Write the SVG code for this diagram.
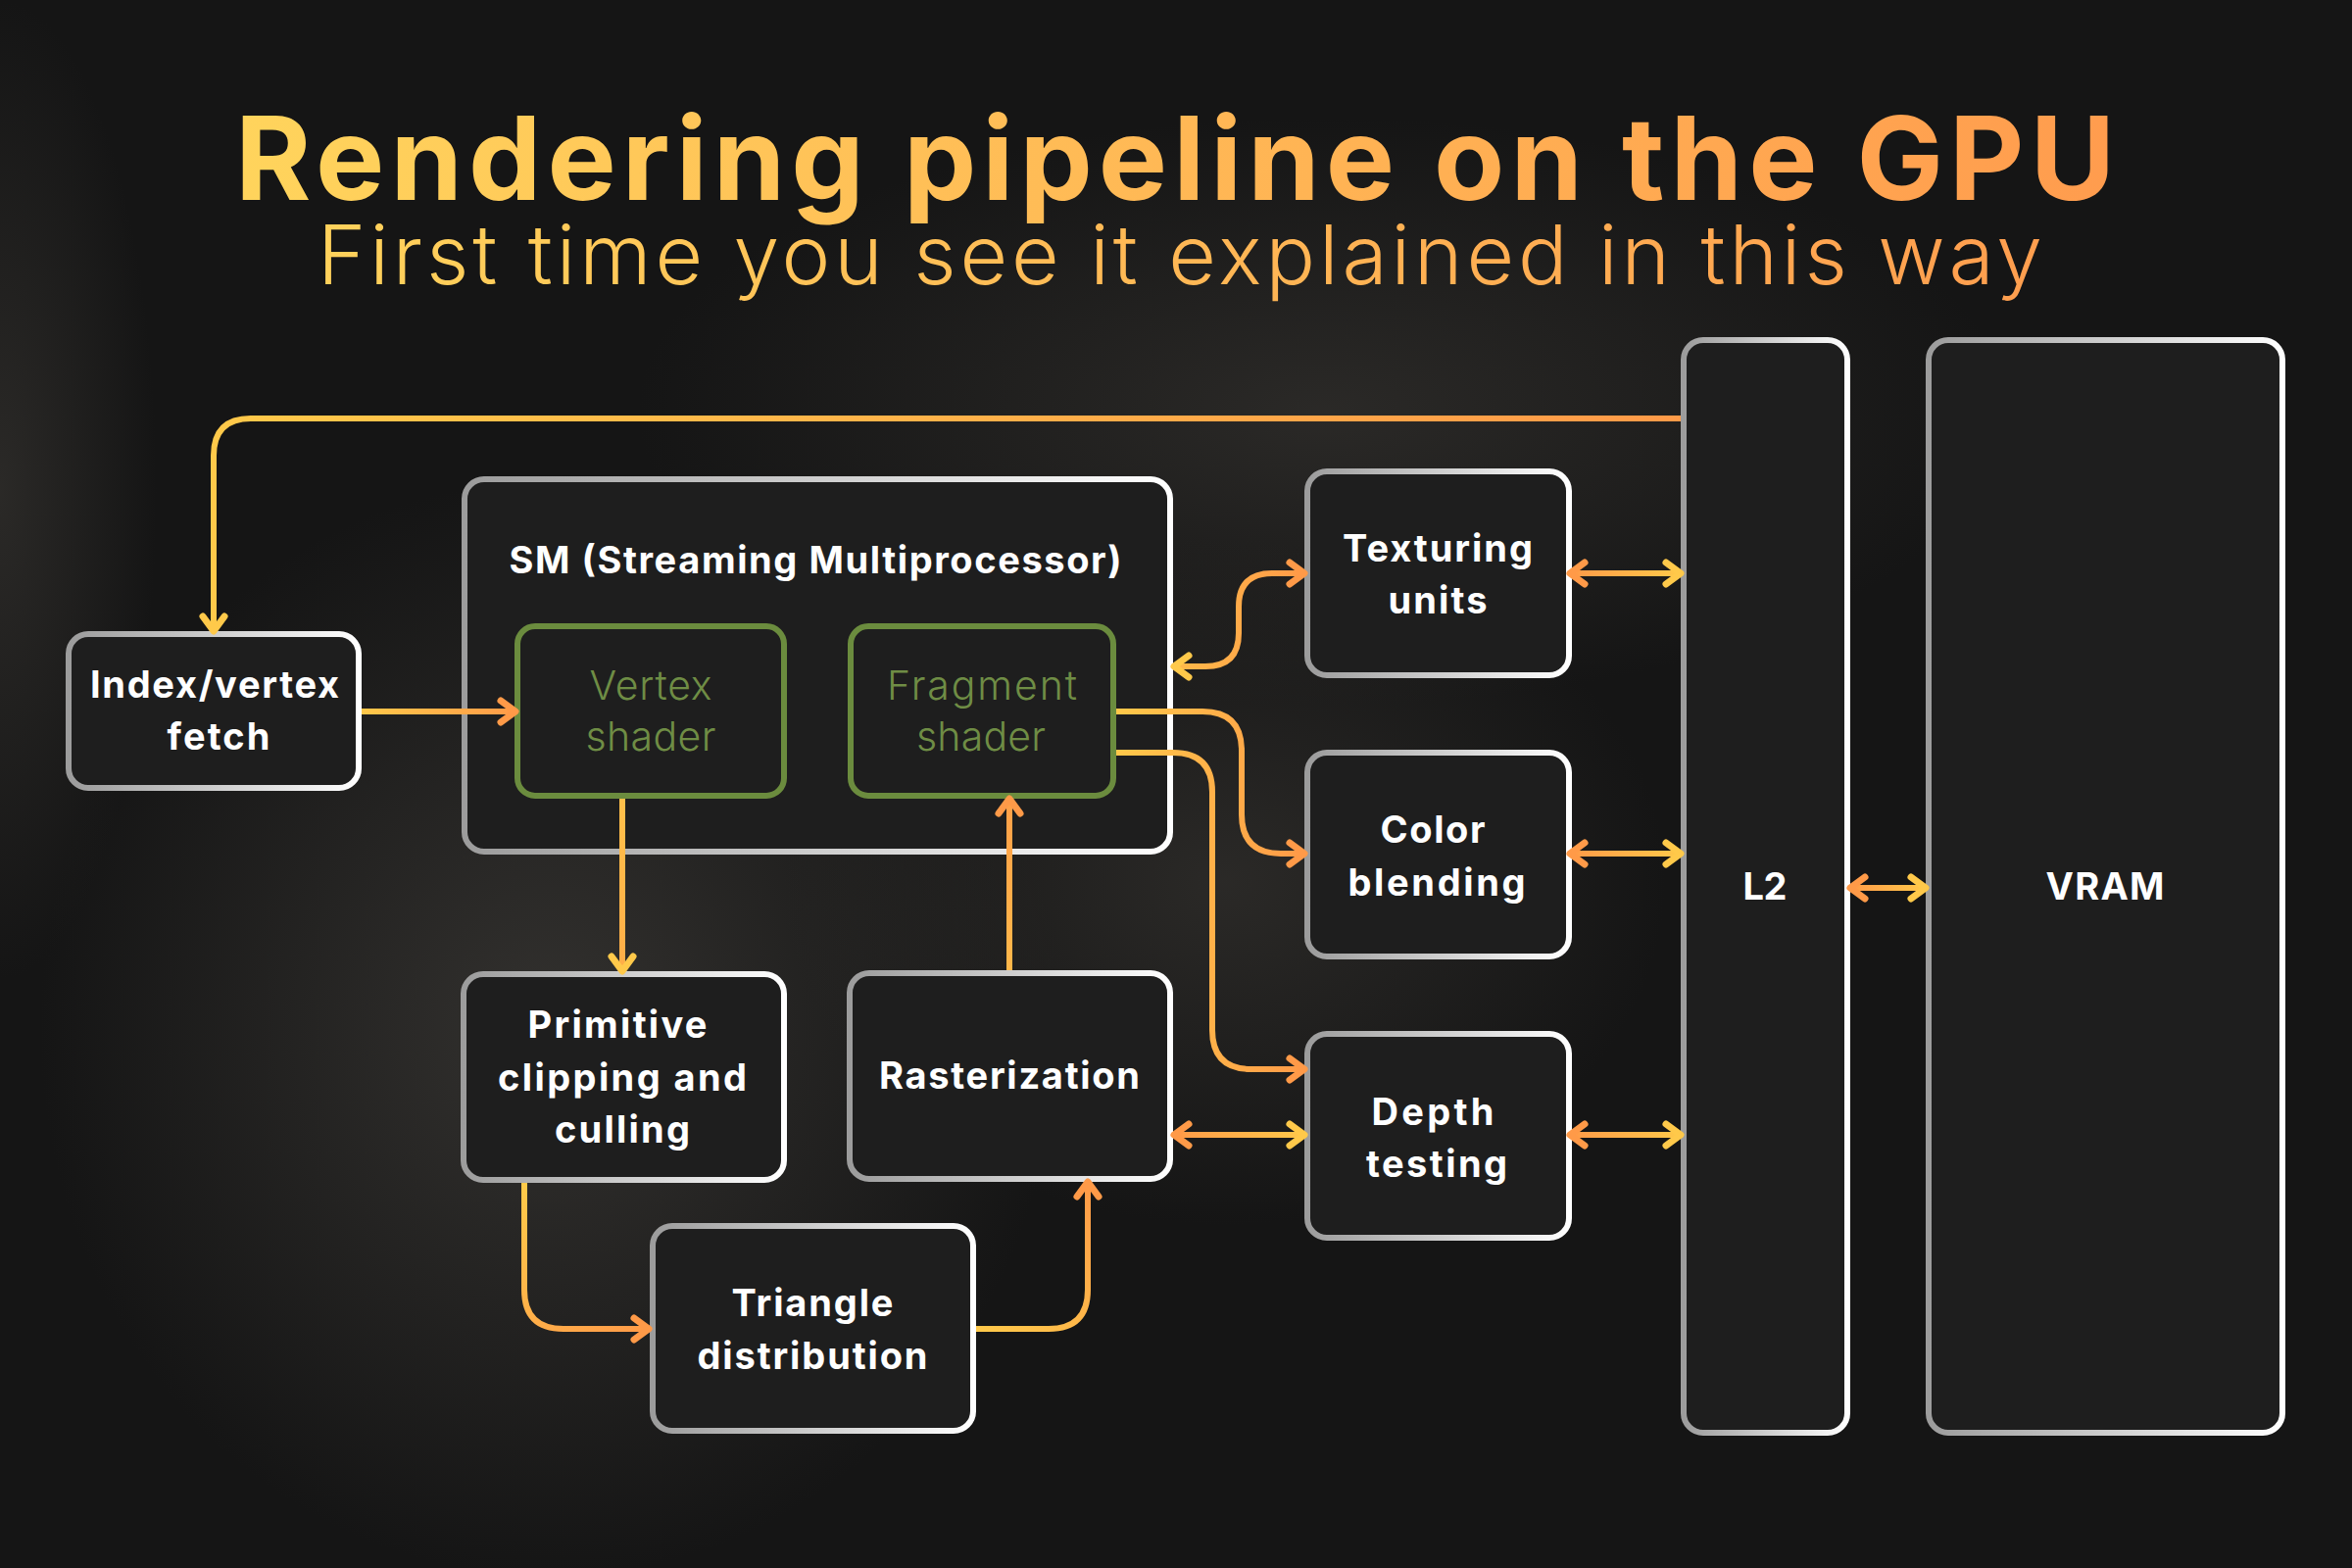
<svg xmlns="http://www.w3.org/2000/svg" width="2400" height="1600" viewBox="0 0 2400 1600">
  <defs>
    <style>
      .box { fill: #1e1e1e; stroke: url(#silver); stroke-width: 6; }
      .shader { fill: #1e1e1e; stroke: #6b8c3e; stroke-width: 6; }
      .lbl { font-family: Inter, "Liberation Sans", sans-serif; font-weight: 700; font-size: 38px; fill: #ffffff; text-anchor: middle; }
      .glbl { font-family: Inter, "Liberation Sans", sans-serif; font-weight: 300; font-size: 41px; fill: #6f8d45; text-anchor: middle; }
      .con { fill: none; stroke-width: 6; stroke-linejoin: round; }
      .title { font-family: Inter, "Liberation Sans", sans-serif; font-weight: 700; font-size: 118px; fill: url(#titleGrad); text-anchor: middle; }
      .sub { font-family: Inter, "Liberation Sans", sans-serif; font-weight: 300; font-size: 84px; fill: url(#titleGrad); text-anchor: middle; }
    </style>
    <linearGradient id="silver" x1="0" y1="0" x2="1" y2="0">
      <stop offset="0" stop-color="#9c9c9c"/>
      <stop offset="1" stop-color="#ffffff"/>
    </linearGradient>
    <linearGradient id="titleGrad" gradientUnits="userSpaceOnUse" x1="240" y1="0" x2="2160" y2="0">
      <stop offset="0" stop-color="#ffd45c"/>
      <stop offset="1" stop-color="#ff9c4e"/>
    </linearGradient>
    <radialGradient id="glow1" cx="0.5" cy="0.5" r="0.5">
      <stop offset="0" stop-color="#3a3835" stop-opacity="0.8"/>
      <stop offset="1" stop-color="#3a3835" stop-opacity="0"/>
    </radialGradient>
    <radialGradient id="glow2" cx="0.5" cy="0.5" r="0.5">
      <stop offset="0" stop-color="#34322f" stop-opacity="0.7"/>
      <stop offset="1" stop-color="#34322f" stop-opacity="0"/>
    </radialGradient>
    <linearGradient id="gTop" gradientUnits="userSpaceOnUse" x1="218" y1="0" x2="1716" y2="0">
      <stop offset="0" stop-color="#ffc94a"/><stop offset="1" stop-color="#ff9a48"/>
    </linearGradient>
    <linearGradient id="gIdx" gradientUnits="userSpaceOnUse" x1="366" y1="0" x2="528" y2="0">
      <stop offset="0" stop-color="#ffc94a"/><stop offset="1" stop-color="#ff9a48"/>
    </linearGradient>
    <linearGradient id="gVP" gradientUnits="userSpaceOnUse" x1="0" y1="813" x2="0" y2="993">
      <stop offset="0" stop-color="#ffc04a"/><stop offset="1" stop-color="#ffad48"/>
    </linearGradient>
    <linearGradient id="gRF" gradientUnits="userSpaceOnUse" x1="0" y1="992" x2="0" y2="813">
      <stop offset="0" stop-color="#ffb84a"/><stop offset="1" stop-color="#ff9f48"/>
    </linearGradient>
    <linearGradient id="gPT" gradientUnits="userSpaceOnUse" x1="535" y1="1205" x2="664" y2="1356">
      <stop offset="0" stop-color="#ffcb4a"/><stop offset="1" stop-color="#ff9a48"/>
    </linearGradient>
    <linearGradient id="gTR" gradientUnits="userSpaceOnUse" x1="995" y1="1356" x2="1110" y2="1203">
      <stop offset="0" stop-color="#ffc94a"/><stop offset="1" stop-color="#ff9a48"/>
    </linearGradient>
    <linearGradient id="gLR" gradientUnits="userSpaceOnUse" x1="1136" y1="0" x2="1332" y2="0">
      <stop offset="0" stop-color="#ffc94a"/><stop offset="1" stop-color="#ff9a48"/>
    </linearGradient>
    <linearGradient id="gOY1" gradientUnits="userSpaceOnUse" x1="1197" y1="0" x2="1332" y2="0">
      <stop offset="0" stop-color="#ff9a48"/><stop offset="1" stop-color="#ffc94a"/>
    </linearGradient>
    <linearGradient id="gOY2" gradientUnits="userSpaceOnUse" x1="1601" y1="0" x2="1716" y2="0">
      <stop offset="0" stop-color="#ff9a48"/><stop offset="1" stop-color="#ffc94a"/>
    </linearGradient>
    <linearGradient id="gOY3" gradientUnits="userSpaceOnUse" x1="1886" y1="0" x2="1967" y2="0">
      <stop offset="0" stop-color="#ff9a48"/><stop offset="1" stop-color="#ffc94a"/>
    </linearGradient>
    <marker id="aO" markerUnits="userSpaceOnUse" viewBox="-24 -16 30 32" markerWidth="30" markerHeight="32" refX="0" refY="0" orient="auto" overflow="visible">
      <path d="M -15 -11 L 0 0 L -15 11" fill="none" stroke="#ff9a48" stroke-width="7" stroke-linecap="round" stroke-linejoin="round"/>
    </marker>
    <marker id="aY" markerUnits="userSpaceOnUse" viewBox="-24 -16 30 32" markerWidth="30" markerHeight="32" refX="0" refY="0" orient="auto" overflow="visible">
      <path d="M -15 -11 L 0 0 L -15 11" fill="none" stroke="#ffc94a" stroke-width="7" stroke-linecap="round" stroke-linejoin="round"/>
    </marker>
    <marker id="aOs" markerUnits="userSpaceOnUse" viewBox="-24 -16 30 32" markerWidth="30" markerHeight="32" refX="0" refY="0" orient="auto-start-reverse" overflow="visible">
      <path d="M -15 -11 L 0 0 L -15 11" fill="none" stroke="#ff9a48" stroke-width="7" stroke-linecap="round" stroke-linejoin="round"/>
    </marker>
    <marker id="aYs" markerUnits="userSpaceOnUse" viewBox="-24 -16 30 32" markerWidth="30" markerHeight="32" refX="0" refY="0" orient="auto-start-reverse" overflow="visible">
      <path d="M -15 -11 L 0 0 L -15 11" fill="none" stroke="#ffc94a" stroke-width="7" stroke-linecap="round" stroke-linejoin="round"/>
    </marker>
  </defs>

  <!-- background -->
  <rect x="0" y="0" width="2400" height="1600" fill="#151515"/>
  <ellipse cx="560" cy="1050" rx="520" ry="560" fill="url(#glow1)"/>
  <ellipse cx="1350" cy="420" rx="700" ry="300" fill="url(#glow2)"/>
  <ellipse cx="1250" cy="900" rx="450" ry="350" fill="url(#glow2)"/>
  <ellipse cx="0" cy="500" rx="160" ry="500" fill="url(#glow2)"/>

  <g id="title">
    <text class="title" x="1199" y="204" textLength="1918">Rendering pipeline on the GPU</text>
    <text class="sub" x="1204" y="290" textLength="1760">First time you see it explained in this way</text>
  </g>

  <g id="node-index-fetch">
    <rect class="box" x="70" y="647" width="296" height="157" rx="20"/>
    <text class="lbl" x="219" y="712" textLength="254">Index/vertex</text>
    <text class="lbl" x="223" y="765" textLength="105">fetch</text>
  </g>

  <g id="node-sm">
    <rect class="box" x="474" y="489" width="720" height="380" rx="20"/>
    <text class="lbl" x="832" y="585" textLength="625">SM (Streaming Multiprocessor)</text>
  </g>

  <g id="node-vertex-shader">
    <rect class="shader" x="528" y="639" width="272" height="173" rx="18"/>
    <text class="glbl" x="664" y="714" textLength="125">Vertex</text>
    <text class="glbl" x="664" y="766" textLength="133">shader</text>
  </g>

  <g id="node-fragment-shader">
    <rect class="shader" x="868" y="639" width="268" height="173" rx="18"/>
    <text class="glbl" x="1002" y="714" textLength="194">Fragment</text>
    <text class="glbl" x="1001" y="766" textLength="132">shader</text>
  </g>

  <g id="node-texturing">
    <rect class="box" x="1334" y="481" width="267" height="208" rx="20"/>
    <text class="lbl" x="1467" y="573" textLength="194">Texturing</text>
    <text class="lbl" x="1467" y="626" textLength="101">units</text>
  </g>

  <g id="node-color-blending">
    <rect class="box" x="1334" y="768" width="267" height="208" rx="20"/>
    <text class="lbl" x="1462" y="860" textLength="107">Color</text>
    <text class="lbl" x="1466" y="914" textLength="181">blending</text>
  </g>

  <g id="node-depth-testing">
    <rect class="box" x="1334" y="1055" width="267" height="208" rx="20"/>
    <text class="lbl" x="1462" y="1148" textLength="125">Depth</text>
    <text class="lbl" x="1466" y="1201" textLength="144">testing</text>
  </g>

  <g id="node-l2">
    <rect class="box" x="1718" y="347" width="167" height="1115" rx="20"/>
    <text class="lbl" x="1801" y="918" textLength="45">L2</text>
  </g>

  <g id="node-vram">
    <rect class="box" x="1968" y="347" width="361" height="1115" rx="20"/>
    <text class="lbl" x="2148" y="918" textLength="121">VRAM</text>
  </g>

  <g id="node-primitive">
    <rect class="box" x="473" y="994" width="327" height="210" rx="20"/>
    <text class="lbl" x="630" y="1059" textLength="183">Primitive</text>
    <text class="lbl" x="635" y="1113" textLength="254">clipping and</text>
    <text class="lbl" x="635" y="1166" textLength="138">culling</text>
  </g>

  <g id="node-rasterization">
    <rect class="box" x="867" y="993" width="327" height="210" rx="20"/>
    <text class="lbl" x="1030" y="1111" textLength="266">Rasterization</text>
  </g>

  <g id="node-triangle">
    <rect class="box" x="666" y="1251" width="327" height="209" rx="20"/>
    <text class="lbl" x="829" y="1343" textLength="165">Triangle</text>
    <text class="lbl" x="829" y="1397" textLength="235">distribution</text>
  </g>

  <g id="connectors">
    <path class="con" stroke="url(#gTop)" d="M 1715 427 H 256 Q 218 427 218 465 V 644" marker-end="url(#aY)"/>
    <path class="con" stroke="url(#gIdx)" d="M 369 726 H 526" marker-end="url(#aO)"/>
    <path class="con" stroke="url(#gVP)" d="M 635 815 V 991" marker-end="url(#aY)"/>
    <path class="con" stroke="url(#gRF)" d="M 1030 990 V 815" marker-end="url(#aO)"/>
    <path class="con" stroke="url(#gPT)" d="M 535 1207 V 1316 Q 535 1356 575 1356 H 662" marker-end="url(#aO)"/>
    <path class="con" stroke="url(#gTR)" d="M 996 1356 H 1070 Q 1110 1356 1110 1316 V 1206" marker-end="url(#aO)"/>
    <path class="con" stroke="url(#gLR)" d="M 1198 680 H 1230 Q 1264 680 1264 646 V 619 Q 1264 585 1298 585 H 1331" marker-start="url(#aYs)" marker-end="url(#aO)"/>
    <path class="con" stroke="url(#gLR)" d="M 1139 726 H 1227 Q 1267 726 1267 766 V 831 Q 1267 871 1307 871 H 1331" marker-end="url(#aO)"/>
    <path class="con" stroke="url(#gLR)" d="M 1139 768 H 1197 Q 1237 768 1237 808 V 1051 Q 1237 1091 1277 1091 H 1331" marker-end="url(#aO)"/>
    <path class="con" stroke="url(#gOY1)" d="M 1198 1158 H 1331" marker-start="url(#aOs)" marker-end="url(#aY)"/>
    <path class="con" stroke="url(#gOY2)" d="M 1602 585 H 1715" marker-start="url(#aOs)" marker-end="url(#aY)"/>
    <path class="con" stroke="url(#gOY2)" d="M 1602 871 H 1715" marker-start="url(#aOs)" marker-end="url(#aY)"/>
    <path class="con" stroke="url(#gOY2)" d="M 1602 1158 H 1715" marker-start="url(#aOs)" marker-end="url(#aY)"/>
    <path class="con" stroke="url(#gOY3)" d="M 1888 906 H 1965" marker-start="url(#aOs)" marker-end="url(#aY)"/>
  </g>
</svg>
